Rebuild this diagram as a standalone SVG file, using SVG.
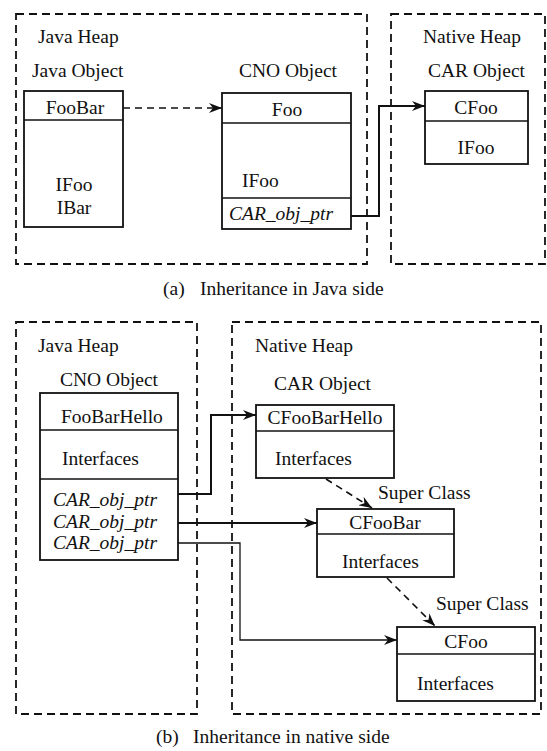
<svg xmlns="http://www.w3.org/2000/svg" width="547" height="751" viewBox="0 0 547 751">
  <style>
    text { font-family: "Liberation Serif", "Times New Roman", serif; font-size: 19.5px; fill: #111; }
    .it { font-style: italic; }
    .mid { text-anchor: middle; }
    .heap { fill: none; stroke: #111; stroke-width: 1.8; stroke-dasharray: 8 5; }
    .box { fill: #fff; stroke: #111; stroke-width: 1.8; }
    .div { stroke: #111; stroke-width: 1.6; }
    .link { fill: none; stroke: #111; stroke-width: 2; }
    .thin { fill: none; stroke: #111; stroke-width: 1.3; }
    .dash { fill: none; stroke: #111; stroke-width: 1.6; stroke-dasharray: 7 5; }
  </style>
  <defs>
    <marker id="arrow" markerUnits="userSpaceOnUse" markerWidth="14" markerHeight="10" refX="13" refY="5" orient="auto">
      <path d="M0,0 L13,5 L0,10 L4,5 z" fill="#111"/>
    </marker>
  </defs>

  <rect width="547" height="751" fill="#fff"/>

  <!-- (a) inheritance on the Java side -->
  <g id="java-heap-a">
    <rect class="heap" x="16" y="14" width="351" height="250"/>
    <text x="38" y="43">Java Heap</text>
    <text x="32" y="77">Java Object</text>
  </g>
  <g id="native-heap-a">
    <rect class="heap" x="391" y="14" width="154" height="250"/>
    <text x="423" y="43">Native Heap</text>
    <text x="428" y="77">CAR Object</text>
  </g>
  <g id="foobar">
    <rect class="box" x="24" y="91" width="99" height="136"/>
    <line class="div" x1="24" y1="120" x2="123" y2="120"/>
    <text class="mid" x="75" y="114">FooBar</text>
    <text class="mid" x="74" y="191">IFoo</text>
    <text class="mid" x="74" y="214">IBar</text>
  </g>
  <g id="cno-foo">
    <text class="mid" x="288" y="77">CNO Object</text>
    <rect class="box" x="222" y="93" width="129" height="136"/>
    <line class="div" x1="222" y1="123" x2="351" y2="123"/>
    <line class="div" x1="222" y1="198" x2="351" y2="198"/>
    <text class="mid" x="287" y="116">Foo</text>
    <text x="242" y="187">IFoo</text>
    <text class="it" x="229" y="220">CAR_obj_ptr</text>
  </g>
  <g id="cfoo-a">
    <rect class="box" x="425" y="91" width="103" height="73"/>
    <line class="div" x1="425" y1="121" x2="528" y2="121"/>
    <text class="mid" x="476" y="114">CFoo</text>
    <text class="mid" x="476" y="154">IFoo</text>
  </g>
  <g id="connectors-a">
    <line class="dash" x1="123" y1="108" x2="222" y2="108" marker-end="url(#arrow)"/>
    <polyline class="link" points="351,216 379,216 379,106 425,106" marker-end="url(#arrow)"/>
  </g>
  <g id="caption-a">
    <text x="163" y="295">(a)</text>
    <text x="200" y="295">Inheritance in Java side</text>
  </g>

  <!-- (b) inheritance on the native side -->
  <g id="java-heap-b">
    <rect class="heap" x="16" y="322" width="181" height="392"/>
    <text x="38" y="352">Java Heap</text>
    <text x="60" y="386">CNO Object</text>
  </g>
  <g id="native-heap-b">
    <rect class="heap" x="232" y="322" width="309" height="392"/>
    <text x="255" y="352">Native Heap</text>
    <text x="274" y="390">CAR Object</text>
  </g>
  <g id="foobarhello">
    <rect class="box" x="40" y="393" width="138" height="167"/>
    <line class="div" x1="40" y1="430" x2="178" y2="430"/>
    <line class="div" x1="40" y1="479" x2="178" y2="479"/>
    <text x="61" y="423">FooBarHello</text>
    <text x="62" y="465">Interfaces</text>
    <text class="it" x="53" y="506">CAR_obj_ptr</text>
    <text class="it" x="53" y="528">CAR_obj_ptr</text>
    <text class="it" x="53" y="549">CAR_obj_ptr</text>
  </g>
  <g id="cfoobarhello">
    <rect class="box" x="256" y="405" width="138" height="73"/>
    <line class="div" x1="256" y1="431" x2="394" y2="431"/>
    <text class="mid" x="325" y="424">CFooBarHello</text>
    <text x="275" y="465">Interfaces</text>
  </g>
  <g id="cfoobar">
    <rect class="box" x="317" y="509" width="137" height="68"/>
    <line class="div" x1="317" y1="534" x2="454" y2="534"/>
    <text class="mid" x="385" y="529">CFooBar</text>
    <text x="342" y="568">Interfaces</text>
  </g>
  <g id="cfoo-b">
    <rect class="box" x="397" y="627" width="138" height="74"/>
    <line class="div" x1="397" y1="654" x2="535" y2="654"/>
    <text class="mid" x="466" y="648">CFoo</text>
    <text x="417" y="690">Interfaces</text>
  </g>
  <g id="connectors-b">
    <polyline class="link" points="178,494 211,494 211,415 256,415" marker-end="url(#arrow)"/>
    <line class="link" x1="178" y1="523" x2="317" y2="523" marker-end="url(#arrow)"/>
    <polyline class="thin" points="178,543 240,543 240,640 397,640" marker-end="url(#arrow)"/>
    <line class="dash" x1="326" y1="479" x2="372" y2="508" marker-end="url(#arrow)"/>
    <line class="dash" x1="387" y1="578" x2="435" y2="626" marker-end="url(#arrow)"/>
    <text x="378" y="499">Super Class</text>
    <text x="436" y="610">Super Class</text>
  </g>
  <g id="caption-b">
    <text x="156" y="743">(b)</text>
    <text x="193" y="743">Inheritance in native side</text>
  </g>
</svg>
